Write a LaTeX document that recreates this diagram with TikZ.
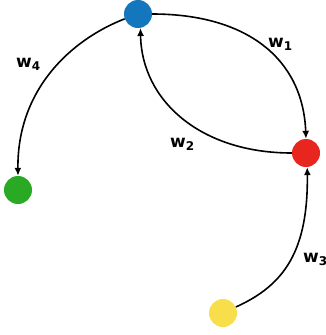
\documentclass[tikz,border=0pt]{standalone}
\usepackage{fontspec}
\setmainfont{DejaVu Sans}
\usetikzlibrary{arrows.meta}
\definecolor{cblue}{RGB}{20,118,188}
\definecolor{cred}{RGB}{232,38,32}
\definecolor{cgreen}{RGB}{42,170,36}
\definecolor{cyellow}{RGB}{248,222,74}
\tikzset{
  dot/.style={circle,minimum size=28pt,inner sep=0pt,draw=none},
  edge/.style={line width=1.6pt,-{Latex[length=8pt,width=7pt]}},
  wlab/.style={anchor=base west,inner sep=0pt,font=\fontsize{17}{17}\selectfont\bfseries}
}
\newcommand{\wsub}[1]{w\raisebox{-3pt}{\fontsize{12}{12}\selectfont #1}}
\begin{document}
\begin{tikzpicture}[x=1pt,y=-1pt]
\useasboundingbox (0,0) rectangle (325,335);
\node[dot,fill=cblue] (blue) at (138,14) {};
\node[dot,fill=cred] (red) at (306,153) {};
\node[dot,fill=cgreen] (green) at (18,190) {};
\node[dot,fill=cyellow] (yellow) at (223,313) {};
\draw[edge] (blue.east) .. controls +(96,0) and +(-3,-79) .. (red.north);
\draw[edge] (red.west) .. controls +(-92,0) and +(1,72) .. (blue.-80);
\draw[edge] (blue.200) .. controls +(-54,21) and +(-1,-86) .. (green.north);
\draw[edge] (yellow.25) .. controls +(49,-22) and +(1,83) .. (red.-85);
\node[wlab] (l1) at (268,47) {\wsub{1}};
\node[wlab] (l2) at (170,147) {\wsub{2}};
\node[wlab] (l4) at (16,67) {\wsub{4}};
\node[wlab] (l3) at (303,262) {\wsub{3}};
\end{tikzpicture}
\end{document}
